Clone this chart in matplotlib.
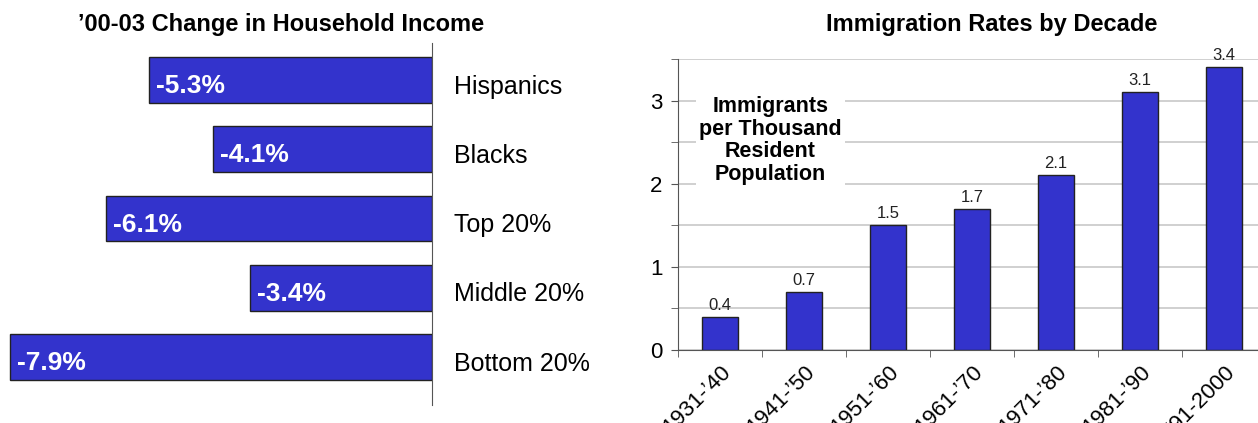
import numpy as np
import matplotlib.pyplot as plt
import matplotlib.transforms as mtransforms
from matplotlib.ticker import MultipleLocator

plt.rcParams['font.family'] = ['Liberation Sans', 'DejaVu Sans']

# Household income change, '00-03
groups = ['Hispanics', 'Blacks', 'Top 20%', 'Middle 20%', 'Bottom 20%']
income_change = [-5.3, -4.1, -6.1, -3.4, -7.9]

# Immigration rates per thousand resident population
decades = ["1931-\u201940", "1941-\u201950", "1951-\u201960", "1961-\u201970",
           "1971-\u201980", "1981-\u201990", "\u201891-2000"]
rates = [0.4, 0.7, 1.5, 1.7, 2.1, 3.1, 3.4]

bar_color = '#3333cc'
W, H = 1258, 423
fig = plt.figure(figsize=(W / 100, H / 100), dpi=100)

# Left: horizontal bars
ax1 = fig.add_axes([0, (H - 405) / H, 432 / W, (405 - 43) / H])
ypos = np.arange(len(groups))
ax1.barh(ypos, income_change, height=0.66, color=bar_color,
         edgecolor='#222222', linewidth=1)
ax1.set_xlim(-8.09, 0)
ax1.set_ylim(4.69, -0.534)
for s in ['left', 'top', 'bottom']:
    ax1.spines[s].set_visible(False)
ax1.spines['right'].set_color('#555555')
ax1.set_xticks([])
ax1.yaxis.tick_right()
ax1.set_yticks(ypos)
ax1.set_yticklabels(groups, fontsize=18)
ax1.tick_params(axis='y', length=0, pad=16)
# nudge category labels slightly down like the original
shift = mtransforms.ScaledTranslation(0, -4 / 100, fig.dpi_scale_trans)
for lab in ax1.get_yticklabels():
    lab.set_transform(lab.get_transform() + shift)
for y, v in zip(ypos, income_change):
    ax1.annotate(f'{v:.1f}%', (v, y), xytext=(7, -6), textcoords='offset pixels',
                 ha='left', va='center', color='white', fontsize=19,
                 fontweight='bold')
fig.text(281 / W, 1 - 25 / H, '\u201900-03 Change in Household Income',
         ha='center', va='center', fontsize=17, fontweight='bold')

# Right: vertical bars
ax2 = fig.add_axes([678 / W, (H - 350) / H, 588 / W, (350 - 59) / H])
xpos = np.arange(len(decades))
ax2.bar(xpos, rates, width=0.42, color=bar_color, edgecolor='#222222',
        linewidth=1, zorder=3)
ax2.set_xlim(-0.5, 6.5)
ax2.set_ylim(0, 3.5)
ax2.yaxis.set_major_locator(MultipleLocator(0.5))
ax2.set_yticks([0, 1, 2, 3], labels=['0', '1', '2', '3'], minor=False)
ax2.set_yticks(np.arange(0, 3.6, 0.5), minor=True)
ax2.grid(axis='y', which='both', color='#c8c8c8', linewidth=1.2, zorder=0)
ax2.tick_params(axis='y', which='both', length=5, color='#555555',
                labelsize=16, pad=6)
ax2.set_xticks(xpos)
ax2.set_xticklabels(decades, rotation=45, ha='right', rotation_mode='anchor',
                    fontsize=16)
ax2.set_xticks(np.arange(-0.5, 7, 1), minor=True)
ax2.tick_params(axis='x', which='major', length=0, pad=8)
ax2.tick_params(axis='x', which='minor', length=5, color='#555555')
for s in ['top', 'right']:
    ax2.spines[s].set_visible(False)
ax2.spines['left'].set_color('#555555')
ax2.spines['bottom'].set_color('#555555')
for x, v in zip(xpos, rates):
    ax2.annotate(f'{v:.1f}', (x, v), xytext=(0, 4), textcoords='offset pixels',
                 ha='center', va='bottom', fontsize=12, color='#222222')
ax2.text(0.6, 2.52, 'Immigrants\nper Thousand\nResident\nPopulation',
         ha='center', va='center', fontsize=15.5, fontweight='bold',
         linespacing=1.12, zorder=4,
         bbox=dict(facecolor='white', edgecolor='none', pad=2))
fig.text(992 / W, 1 - 25 / H, 'Immigration Rates by Decade',
         ha='center', va='center', fontsize=17, fontweight='bold')

fig.savefig('out.png', dpi=100)
